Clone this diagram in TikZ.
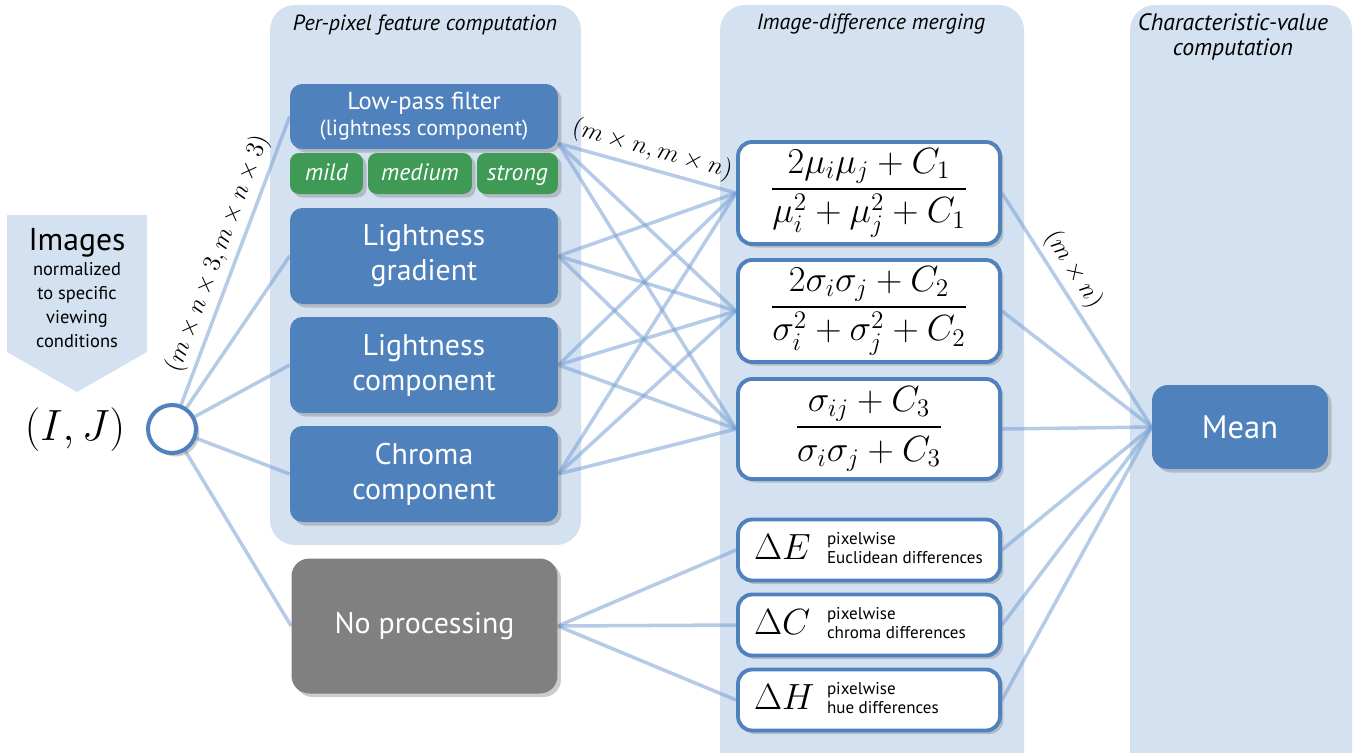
\documentclass[tikz,border=0pt]{standalone}
\usepackage{amsmath}
\usepackage{fontspec}
\setmainfont{PT Sans}
\usetikzlibrary{shadows}
\definecolor{panelblue}{RGB}{212,225,240}
\definecolor{boxblue}{RGB}{79,129,189}
\definecolor{boxgreen}{RGB}{62,154,85}
\definecolor{boxgray}{RGB}{128,128,128}
\definecolor{linkblue}{RGB}{120,160,212}
\pgfdeclarelayer{panels}
\pgfdeclarelayer{links}
\pgfsetlayers{panels,links,main}
\newcommand{\diffsym}[2]{\makebox[4.6cm][l]{\makebox[1.46cm][l]{$\Delta #1$}$\vcenter{\hbox{\fontsize{9.7}{11.3}\selectfont\begin{tabular}{@{}l@{}}pixelwise\\ #2\end{tabular}}}$}}

\begin{document}
\begin{tikzpicture}[x=0.02cm, y=-0.02cm,
    panel/.style={fill=panelblue, rounded corners=0.5cm},
    boxshadow/.style={drop shadow={shadow xshift=2pt, shadow yshift=-2pt, opacity=0.4}},
    featbox/.style={rectangle, rounded corners=7pt, fill=boxblue, text=white, align=center,
        minimum width=5.36cm, minimum height=1.92cm, boxshadow, font=\fontsize{17}{20}\selectfont},
    greenbox/.style={rectangle, rounded corners=5pt, fill=boxgreen, text=white, inner sep=0pt,
        text height=10.5pt, text depth=2.5pt,
        minimum height=0.82cm, boxshadow, font=\itshape\fontsize{13.5}{14}\selectfont},
    mergebox/.style={rectangle, rounded corners=8pt, draw=boxblue, line width=2.2pt, fill=white,
        minimum width=5.24cm, minimum height=2.04cm, boxshadow, font=\fontsize{20}{24}\selectfont},
    diffbox/.style={mergebox, minimum height=1.22cm, inner xsep=0.32cm},
    title/.style={font=\itshape\fontsize{12.5}{14.2}\selectfont, align=center},
    link/.style={draw=linkblue, line width=2pt, opacity=0.55},
    dimlabel/.style={font=\fontsize{13.5}{16}\selectfont, sloped, above}]
  \useasboundingbox (0,0) rectangle (1356,752);

  % column panels
  \begin{pgfonlayer}{panels}
    \begin{scope}
      \clip (0,0) rectangle (1356,752);
      \fill[panel] (270,5) rectangle (581,545);
      \fill[panel] (720,5) rectangle (1024,790);
      \fill[panel] (1130,5) rectangle (1352,790);
      \fill[panelblue] (7,215) -- (147,215) -- (147,352) -- (77,392) -- (7,352) -- cycle;
    \end{scope}
  \end{pgfonlayer}

  \node[title] (t1) at (425,25) {Per-pixel feature computation};
  \node[title] (t2) at (871,24) {Image-difference merging};
  \node[title, font=\itshape\fontsize{13.5}{14.2}\selectfont] (t3) at (1233,37) {Characteristic-value\\computation};

  % input
  \node[font=\fontsize{18}{20}\selectfont] (imgtitle) at (77,243) {Images};
  \node[font=\fontsize{10.5}{13.6}\selectfont, align=center] (imgsub) at (77,305) {normalized\\to specific\\viewing\\conditions};
  \node[font=\fontsize{25}{30}\selectfont] (ij) at (75,430) {$(I,J)$};
  \node[circle, draw=boxblue, line width=2.3pt, fill=white, minimum size=0.96cm, boxshadow] (src) at (172,429) {};

  % per-pixel features
  \node[featbox, minimum height=1.3cm, font=\fontsize{14}{14.7}\selectfont] (lpf) at (424,116.5)
    {Low-pass filter\\{\fontsize{12.5}{14.7}\selectfont (lightness component)}};
  \node[greenbox, minimum width=1.46cm] (mild) at (326.5,173.5) {mild};
  \node[greenbox, minimum width=2.08cm] (medium) at (420,173.5) {medium};
  \node[greenbox, minimum width=1.62cm] (strong) at (517.5,173.5) {strong};
  \node[featbox] (grad) at (424,256) {Lightness\\gradient};
  \node[featbox] (light) at (424,365) {Lightness\\component};
  \node[featbox] (chroma) at (424,474) {Chroma\\component};
  \node[featbox, fill=boxgray, minimum width=5.32cm, minimum height=2.7cm, rounded corners=10pt] (noproc) at (424.5,626) {No processing};
  \coordinate (lpfout) at ([yshift=0.12cm]lpf.south east);

  % merging
  \node[mergebox] (lum) at (869,193) {$\dfrac{2\mu_i\mu_j+C_1}{\mu_i^2+\mu_j^2+C_1}$};
  \node[mergebox] (con) at (869,311) {$\dfrac{2\sigma_i\sigma_j+C_2}{\sigma_i^2+\sigma_j^2+C_2}$};
  \node[mergebox, minimum height=2.0cm] (str) at (869,429) {$\dfrac{\sigma_{ij}+C_3}{\sigma_i\sigma_j+C_3}$};
  \node[diffbox] (dE) at (869,550) {\diffsym{E}{Euclidean differences}};
  \node[diffbox] (dC) at (869,625) {\diffsym{C}{chroma differences}};
  \node[diffbox] (dH) at (869,700) {\diffsym{H}{hue differences}};

  % characteristic value
  \node[featbox, minimum width=3.52cm, minimum height=1.68cm, rounded corners=9pt, font=\fontsize{18.5}{20}\selectfont] (mean) at (1240,427) {Mean};

  % connectors
  \begin{pgfonlayer}{links}
    \foreach \f in {lpf,grad,light,chroma,noproc}
      \draw[link] (src) -- (\f.west);
    \foreach \f in {lpfout,grad.east,light.east,chroma.east}
      \foreach \m in {lum,con,str}
        \draw[link] (\f) -- (\m.west);
    \foreach \d in {dE,dC,dH}
      \draw[link] (noproc.east) -- (\d.west);
    \foreach \m in {lum,con,str,dE,dC,dH}
      \draw[link] (\m.east) -- (mean.west);
  \end{pgfonlayer}

  \path (src) -- (lpf.west) node[dimlabel, midway] (dima) {$(m\times n\times 3, m\times n\times 3)$};
  \path (lpfout) -- (lum.west) node[dimlabel, midway] (dimb) {$(m\times n, m\times n)$};
  \path (lum.east) -- (mean.west) node[dimlabel, pos=0.37] (dimc) {$(m\times n)$};
\end{tikzpicture}
\end{document}
